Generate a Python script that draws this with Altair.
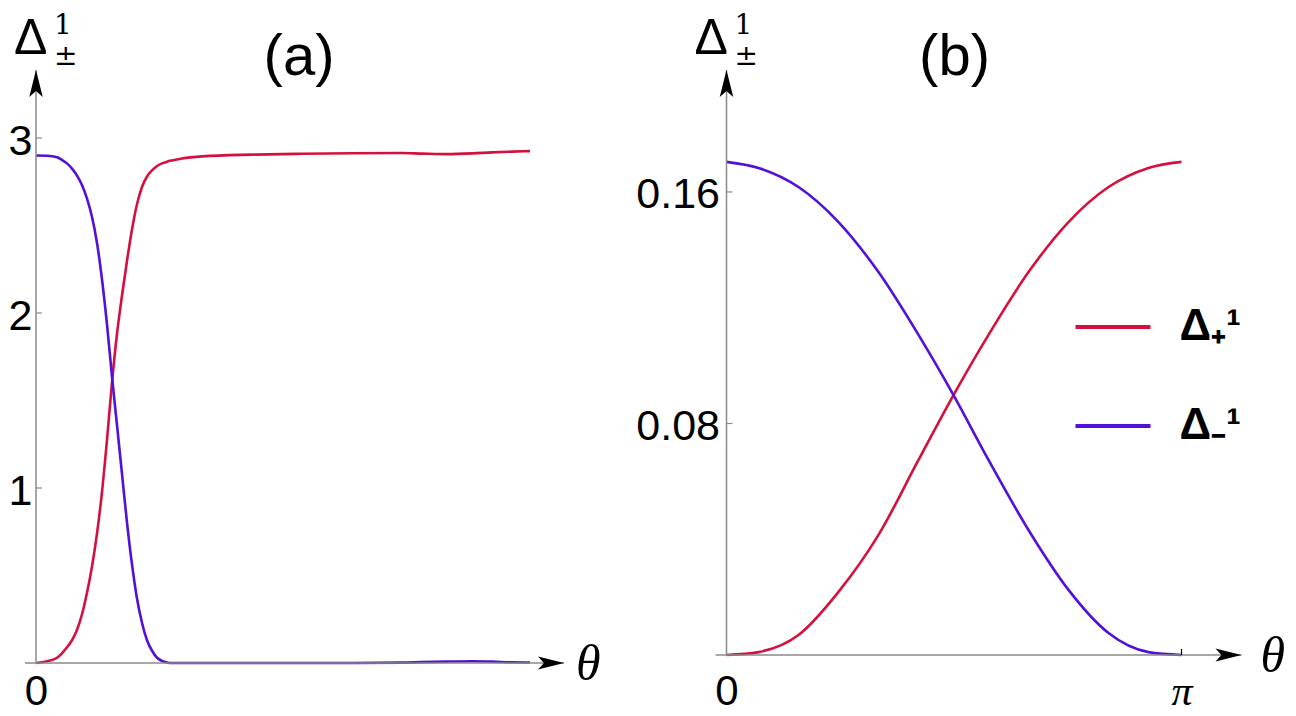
import altair as alt
import pandas as pd

PI = 3.141592653589793

RED = "#D5103E"
BLUE = "#5210D8"
AXIS_GRAY = "#8a8a8a"

LBL_PLUS = "Δ₊¹"
LBL_MINUS = "Δ₋¹"

# ---------------- panel (a) data ----------------
theta_a = [0.0, 0.070, 0.134, 0.165, 0.197, 0.229, 0.261, 0.293, 0.324, 0.356,
           0.388, 0.420, 0.452, 0.483, 0.515, 0.547, 0.579, 0.611, 0.642, 0.674,
           0.706, 0.738, 0.770, 0.801, 0.833, 0.865, 0.929, 1.056, 1.374, 1.692,
           2.010, 2.328, 2.455, 2.614, 2.773, 2.900, 3.027, 3.1416]
plus_a = [0.0, 0.01, 0.03, 0.055, 0.09, 0.13, 0.19, 0.28, 0.40, 0.55,
          0.74, 0.98, 1.28, 1.60, 1.88, 2.10, 2.30, 2.48, 2.62, 2.72,
          2.78, 2.815, 2.84, 2.855, 2.865, 2.872, 2.883, 2.895, 2.905, 2.91,
          2.913, 2.914, 2.911, 2.908, 2.912, 2.918, 2.922, 2.925]
minus_a = [2.90, 2.899, 2.89, 2.875, 2.855, 2.825, 2.785, 2.73, 2.655, 2.55,
           2.40, 2.19, 1.93, 1.64, 1.36, 1.08, 0.80, 0.56, 0.37, 0.23,
           0.13, 0.07, 0.03, 0.012, 0.003, 0.0, 0.0, 0.0, 0.0, 0.0,
           0.0, 0.002, 0.005, 0.008, 0.010, 0.008, 0.004, 0.003]
yticks_a = [1, 2, 3]
xticks_a = [0]

# ---------------- panel (b) data ----------------
theta_b = [0.0, 0.2209, 0.4971, 0.7733, 1.0495, 1.3257, 1.5674, 1.8090,
           2.0852, 2.3614, 2.6376, 2.9138, 3.1416]
plus_b = [0.0, 0.0010, 0.0069, 0.0218, 0.0415, 0.0674, 0.0898, 0.1106,
          0.1323, 0.1496, 0.1617, 0.1683, 0.1704]
minus_b = [0.1704, 0.1683, 0.1617, 0.1496, 0.1323, 0.1106, 0.0898, 0.0674,
           0.0432, 0.0225, 0.0076, 0.0010, 0.0]
yticks_b = [0.08, 0.16]
xticks_b = [0, PI]


def long_df(theta, plus, minus):
    return pd.DataFrame({
        "theta": theta * 2,
        "value": plus + minus,
        "series": [LBL_PLUS] * len(theta) + [LBL_MINUS] * len(theta),
    })


def text_layer(s, x, y, size, font="Liberation Sans", style="normal",
               weight="normal", align="left", baseline="alphabetic", **kw):
    return alt.Chart(pd.DataFrame({"s": [s]})).mark_text(
        align=align, baseline=baseline, fontSize=size, font=font,
        fontStyle=style, fontWeight=weight, color="black", **kw
    ).encode(text="s:N", x=alt.value(x), y=alt.value(y))


UP_ARROW = "M0,0L-0.5,2L0,1.55L0.5,2Z"
RIGHT_ARROW = "M0,0L-2,-0.5L-1.55,0L-2,0.5Z"


def panel(theta, plus, minus, xdom, ydom, width, height, xtip, x_left,
          yticks, xaxis, yaxis, title, title_x, delta_x, theta_dx, legend,
          pi_tick=None):
    xs = alt.Scale(domain=xdom, nice=False, zero=False)
    ys = alt.Scale(domain=ydom, nice=False, zero=False)
    ytop = ydom[1]
    y_zero_px = height - (0 - ydom[0]) / (ydom[1] - ydom[0]) * height

    df = long_df(theta, plus, minus)
    lines = alt.Chart(df).mark_line(strokeWidth=2.6, interpolate="monotone").encode(
        x=alt.X("theta:Q", scale=xs, axis=xaxis),
        y=alt.Y("value:Q", scale=ys, axis=yaxis),
        color=alt.Color("series:N",
                        scale=alt.Scale(domain=[LBL_PLUS, LBL_MINUS], range=[RED, BLUE]),
                        legend=legend),
        detail="series:N",
    )

    axis_rows = pd.DataFrame({"x1": [x_left, 0.0], "x2": [xtip, 0.0],
                              "y1": [0.0, 0.0], "y2": [0.0, ytop]})
    axes = alt.Chart(axis_rows).mark_rule(color=AXIS_GRAY, strokeWidth=1.5).encode(
        x=alt.X("x1:Q", scale=xs), x2="x2:Q",
        y=alt.Y("y1:Q", scale=ys), y2="y2:Q",
    )

    ticks = alt.Chart(pd.DataFrame({"t": yticks})).mark_rule(
        color=AXIS_GRAY, strokeWidth=1.2).encode(
        y=alt.Y("t:Q", scale=ys), x=alt.value(0), x2=alt.value(6))

    up = alt.Chart(pd.DataFrame({"x": [0.0], "y": [ytop]})).mark_point(
        shape=UP_ARROW, filled=True, color="black", size=729, opacity=1).encode(
        x=alt.X("x:Q", scale=xs), y=alt.Y("y:Q", scale=ys))
    right = alt.Chart(pd.DataFrame({"x": [xtip], "y": [0.0]})).mark_point(
        shape=RIGHT_ARROW, filled=True, color="black", size=676, opacity=1).encode(
        x=alt.X("x:Q", scale=xs), y=alt.Y("y:Q", scale=ys))

    theta_lbl = alt.Chart(pd.DataFrame({"x": [xtip], "y": [0.0], "s": ["θ"]})).mark_text(
        align="left", baseline="middle", fontSize=50, font="Liberation Serif",
        fontStyle="italic", color="black", dx=theta_dx, dy=2).encode(
        x=alt.X("x:Q", scale=xs), y=alt.Y("y:Q", scale=ys), text="s:N")

    layers = [lines, axes, ticks, up, right, theta_lbl,
              text_layer(title, title_x, 5, 58, align="center"),
              text_layer("Δ", delta_x, -16, 50),
              text_layer("1\n±", delta_x + 40, -36, 28, font="DejaVu Serif",
                         lineBreak="\n", lineHeight=31)]

    if pi_tick is not None:
        layers.append(alt.Chart(pd.DataFrame({"x": [pi_tick]})).mark_rule(
            color="black", strokeWidth=1.2).encode(
            x=alt.X("x:Q", scale=xs), y=alt.value(y_zero_px),
            y2=alt.value(y_zero_px - 6)))

    return alt.layer(*layers).properties(width=width, height=height)


label_font = "Liberation Sans"

xaxis_a = alt.Axis(values=xticks_a, title=None, domain=False, ticks=False, tickSize=0,
                   grid=False, labelFontSize=42, labelFont=label_font, labelColor="black",
                   labelPadding=8, labelFlush=False, labelOverlap=False, format="d")
yaxis_a = alt.Axis(values=yticks_a, title=None, domain=False, ticks=False, tickSize=0,
                   grid=False, labelFontSize=43, labelFont=label_font, labelColor="black",
                   labelPadding=4, labelFlush=False, labelOffset=3, labelOverlap=False,
                   format="d")

xaxis_b = alt.Axis(values=xticks_b, title=None, domain=False, ticks=False, tickSize=0,
                   grid=False, labelColor="black", labelFontSize=42,
                   labelExpr="datum.value < 1 ? '0' : 'π'",
                   labelFont={"condition": {"test": "datum.value > 1", "value": "Liberation Serif"},
                              "value": label_font},
                   labelFontStyle={"condition": {"test": "datum.value > 1", "value": "italic"},
                                   "value": "normal"},
                   labelPadding=8, labelFlush=False, labelOverlap=False)
yaxis_b = alt.Axis(values=yticks_b, title=None, domain=False, ticks=False, tickSize=0,
                   grid=False, labelFontSize=43, labelFont=label_font, labelColor="black",
                   labelPadding=7, labelFlush=False, labelOffset=3, format=".2f",
                   labelOverlap=False)

legend_b = alt.Legend(orient="none", legendX=347, legendY=217.5, title=None,
                      symbolType="stroke", symbolSize=5625, symbolStrokeWidth=4,
                      labelFontSize=44, labelFont=label_font, labelFontWeight="bold",
                      labelColor="black", labelOffset=27, rowPadding=37, padding=0,
                      labelLimit=300)

H = 593
panel_a = panel(theta_a, plus_a, minus_a, xdom=[0, PI], ydom=[0, 3.3886],
                width=494, height=H, xtip=3.358, x_left=-0.070,
                yticks=yticks_a, xaxis=xaxis_a, yaxis=yaxis_a,
                title="(a)", title_x=263, delta_x=-22, theta_dx=12, legend=None)

panel_b = panel(theta_b, plus_b, minus_b, xdom=[0, PI], ydom=[-0.002764, 0.20214],
                width=455, height=H, xtip=3.556, x_left=-0.076,
                yticks=yticks_b, xaxis=xaxis_b, yaxis=yaxis_b,
                title="(b)", title_x=228, delta_x=-32, theta_dx=19, legend=legend_b,
                pi_tick=PI)

chart = alt.hconcat(panel_a, panel_b, spacing=34.5).resolve_scale(
    x="independent", y="independent", color="independent"
).properties(padding={"top": 4, "left": 0, "right": 0, "bottom": 0},
             background="white").configure_view(stroke=None)

chart.save("out.html", embed_options={"renderer": "svg", "actions": False})
